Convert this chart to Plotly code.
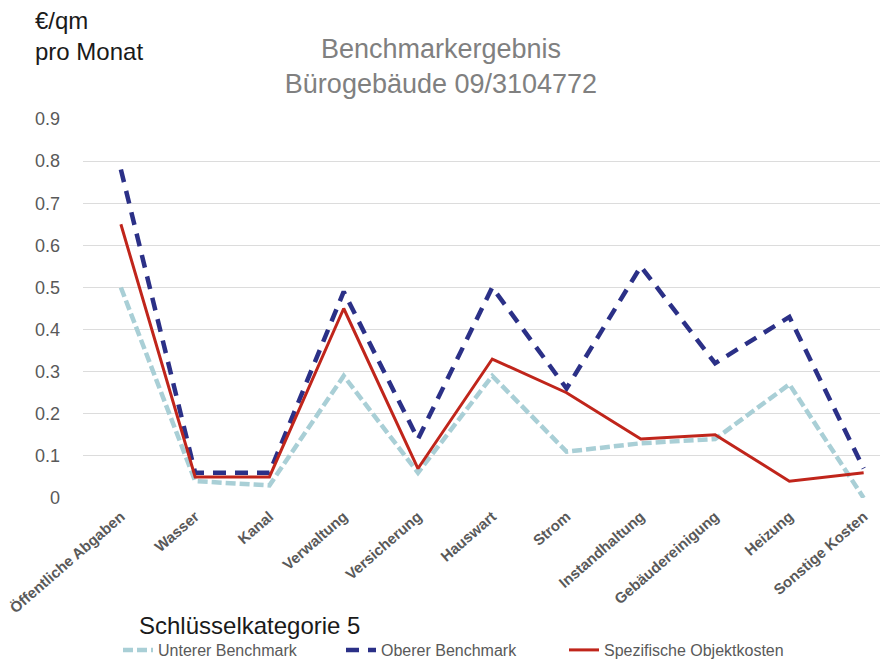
import plotly.graph_objects as go

categories = ["Öffentliche Abgaben", "Wasser", "Kanal", "Verwaltung", "Versicherung",
              "Hauswart", "Strom", "Instandhaltung", "Gebäudereinigung", "Heizung", "Sonstige Kosten"]
unterer = [0.50, 0.04, 0.03, 0.29, 0.06, 0.29, 0.11, 0.13, 0.14, 0.27, 0.0]
oberer = [0.78, 0.06, 0.06, 0.49, 0.14, 0.50, 0.26, 0.55, 0.32, 0.43, 0.07]
objekt = [0.65, 0.05, 0.05, 0.45, 0.07, 0.33, 0.25, 0.14, 0.15, 0.04, 0.06]
y_ticks = [0, 0.1, 0.2, 0.3, 0.4, 0.5, 0.6, 0.7, 0.8, 0.9]
y_ticktext = ["0", "0.1", "0.2", "0.3", "0.4", "0.5", "0.6", "0.7", "0.8", "0.9"]

FONT = "Liberation Sans, Arial, sans-serif"

fig = go.Figure()
fig.add_trace(go.Scatter(x=categories, y=unterer, mode="lines", name="Unterer Benchmark",
                         line=dict(color="#a9cfd6", width=4.5, dash="10px,4px")))
fig.add_trace(go.Scatter(x=categories, y=oberer, mode="lines", name="Oberer Benchmark",
                         line=dict(color="#2b3087", width=4.5, dash="13px,9px")))
fig.add_trace(go.Scatter(x=categories, y=objekt, mode="lines", name="Spezifische Objektkosten",
                         line=dict(color="#c0251b", width=3)))

fig.update_layout(
    width=896, height=661,
    margin=dict(l=83, r=16, t=119, b=163, autoexpand=False),
    paper_bgcolor="white", plot_bgcolor="white",
    font=dict(family=FONT, color="#595959"),
    title=dict(text="Benchmarkergebnis<br>Bürogebäude 09/3104772", x=441/896, xanchor="center",
               y=1 - 58/661, yanchor="top", font=dict(size=27, color="#808080")),
    xaxis=dict(type="category", range=[-0.51, 10.22], showgrid=False, showline=False,
               ticks="", tickangle=-41, automargin=False, ticklabelstandoff=6,
               tickfont=dict(size=15, color="#595959", family=FONT, weight="bold")),
    yaxis=dict(range=[0, 0.9], tickvals=y_ticks, ticktext=y_ticktext, showgrid=True,
               gridcolor="#dcdcdc", gridwidth=1, zeroline=False, showline=False,
               automargin=False,
               tickfont=dict(size=18, color="#595959"), ticklabelstandoff=22),
    showlegend=True,
    legend=dict(orientation="h", x=118 / 896, xanchor="left", xref="container",
                y=1 - 650 / 661, yref="container",
                yanchor="middle", font=dict(size=16, color="#595959"), entrywidth=178,
                itemwidth=30, bgcolor="rgba(0,0,0,0)"),
)

fig.add_annotation(text="€/qm<br>pro Monat", xref="paper", yref="paper",
                   x=(33 - 83) / 797, y=(498 - 5) / 379, xanchor="left", yanchor="top",
                   align="left", showarrow=False, font=dict(size=24, color="#1a1a1a"))
fig.add_annotation(text="Schlüsselkategorie 5", xref="paper", yref="paper",
                   x=(137 - 83) / 797, y=(498 - 625) / 379, xanchor="left", yanchor="middle",
                   showarrow=False, font=dict(size=24, color="#1a1a1a"))

fig.write_html("out.html", config={"displayModeBar": False},
               post_script="document.body.style.margin='0';document.body.style.overflow='hidden';")
